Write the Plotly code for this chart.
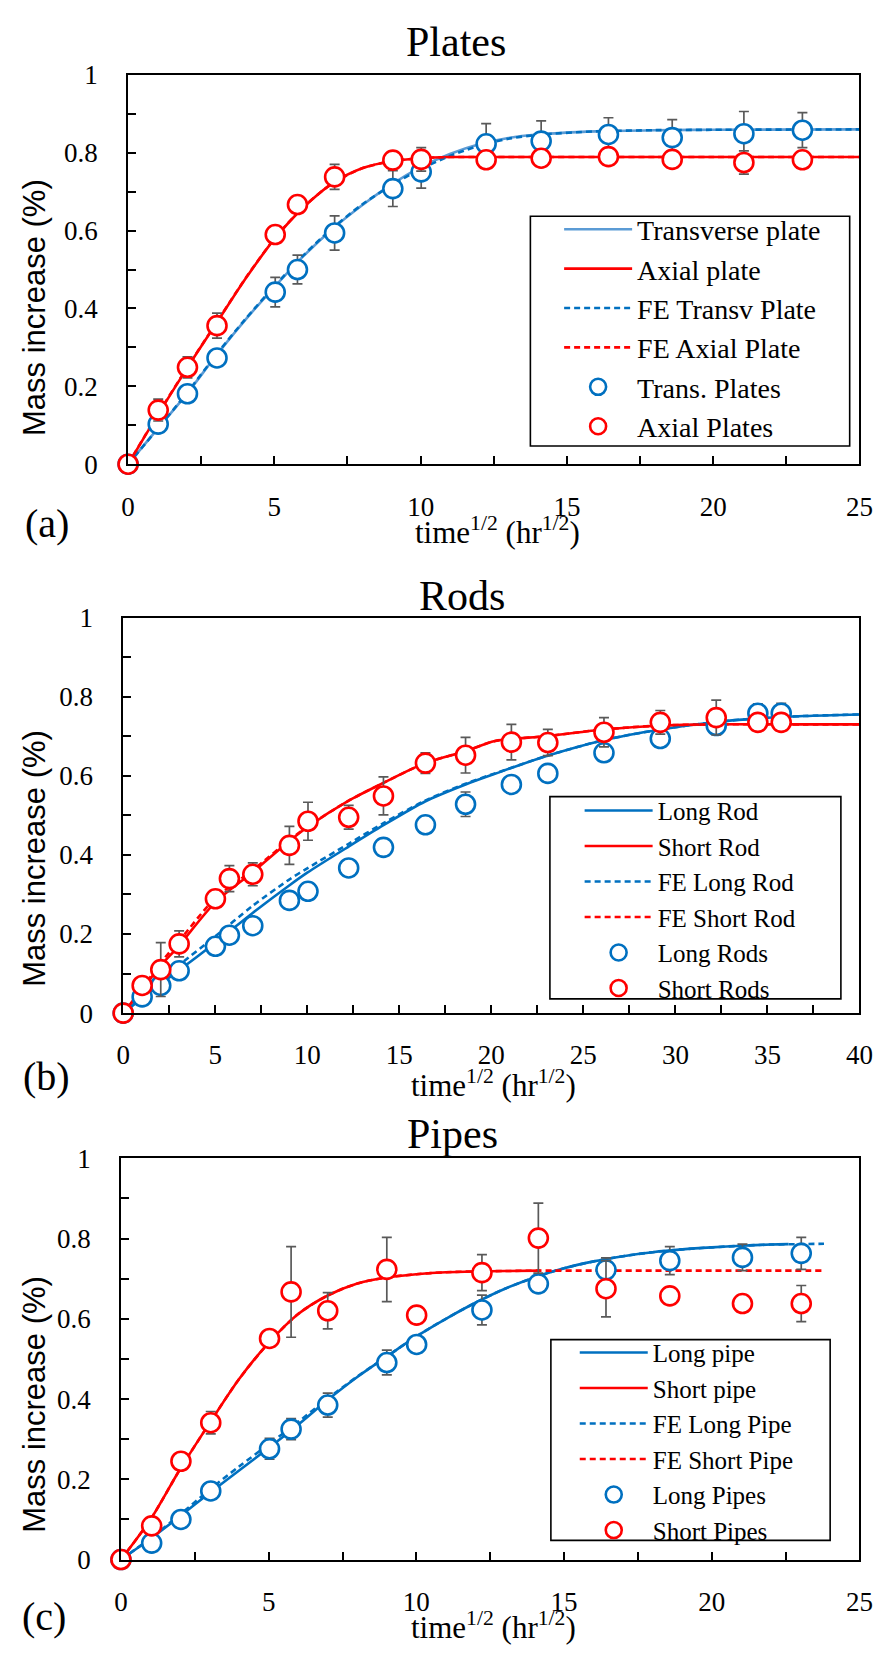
import plotly.graph_objects as go

W, H = 892, 1660

BLUE = "#0070C0"
LIGHT_BLUE = "#5B9BD5"
RED = "#FF0000"
ERR = "#595959"
SERIF = "Liberation Serif"
SANS = "Liberation Sans"

# ---------------- (a) Plates ----------------
plates_t = [0, 1.03, 2.03, 3.04, 5.03, 5.79, 7.06, 9.05, 10.02, 12.24, 14.12, 16.42, 18.6, 21.05, 23.05]
trans_plates = [0, 0.103, 0.181, 0.273, 0.442, 0.500, 0.594, 0.708, 0.751, 0.823, 0.830, 0.847, 0.839, 0.849, 0.858]
trans_plates_err = [0, 0.008, 0.008, 0.01, 0.038, 0.037, 0.044, 0.046, 0.042, 0.052, 0.052, 0.043, 0.046, 0.057, 0.045]
axial_plates = [0, 0.139, 0.249, 0.356, 0.590, 0.667, 0.738, 0.781, 0.783, 0.782, 0.786, 0.790, 0.783, 0.775, 0.782]
axial_plates_err = [0, 0.028, 0.027, 0.032, 0.012, 0.012, 0.032, 0.018, 0.03, 0.012, 0.012, 0.012, 0.012, 0.03, 0.012]

plate_curve_t = [0, 1, 2, 3, 4, 5, 6, 7, 8, 9, 10, 11, 12, 13, 14, 16, 18, 20, 25]
transverse_plate = [0, 0.09, 0.18, 0.278, 0.37, 0.455, 0.535, 0.605, 0.665, 0.718, 0.763, 0.797, 0.822, 0.838, 0.847, 0.855, 0.858, 0.859, 0.86]
fe_transverse_plate = [0, 0.09, 0.182, 0.28, 0.372, 0.457, 0.537, 0.607, 0.667, 0.716, 0.758, 0.792, 0.818, 0.836, 0.846, 0.855, 0.858, 0.859, 0.86]
axial_plate = [0, 0.125, 0.245, 0.36, 0.475, 0.578, 0.66, 0.722, 0.76, 0.778, 0.786, 0.789, 0.789, 0.789, 0.789, 0.789, 0.789, 0.789, 0.789]
fe_axial_plate = [0, 0.126, 0.246, 0.361, 0.476, 0.579, 0.661, 0.722, 0.76, 0.778, 0.786, 0.789, 0.789, 0.789, 0.789, 0.789, 0.789, 0.789, 0.789]

# ---------------- (b) Rods ----------------
rods_t = [0, 1.03, 2.04, 3.04, 5.01, 5.77, 7.04, 9.03, 10.04, 12.25, 14.14, 16.42, 18.6, 21.09, 23.07, 26.12, 29.18, 32.22, 34.48, 35.75]
long_rods = [0, 0.041, 0.070, 0.107, 0.169, 0.197, 0.221, 0.285, 0.308, 0.367, 0.419, 0.476, 0.528, 0.578, 0.606, 0.658, 0.694, 0.727, 0.758, 0.758]
long_rods_err = [0, 0.01, 0.01, 0.01, 0.01, 0.01, 0.01, 0.01, 0.01, 0.01, 0.01, 0.01, 0.031, 0.01, 0.01, 0.01, 0.01, 0.01, 0.024, 0.025]
short_rods = [0, 0.070, 0.110, 0.175, 0.289, 0.340, 0.351, 0.424, 0.485, 0.495, 0.549, 0.632, 0.652, 0.685, 0.684, 0.710, 0.735, 0.747, 0.735, 0.735]
short_rods_err = [0, 0.01, 0.068, 0.033, 0.01, 0.033, 0.029, 0.048, 0.048, 0.03, 0.048, 0.026, 0.045, 0.045, 0.033, 0.037, 0.03, 0.044, 0.01, 0.01]

rod_curve_t = [0, 1, 2, 3, 5, 7, 9, 10, 12.25, 14.14, 16.4, 18.6, 20.2, 23, 26.1, 29.2, 32.2, 34.5, 37, 40]
long_rod = [0, 0.037, 0.073, 0.107, 0.178, 0.252, 0.322, 0.355, 0.421, 0.475, 0.535, 0.578, 0.605, 0.65, 0.69, 0.717, 0.736, 0.745, 0.751, 0.755]
fe_long_rod = [0, 0.04, 0.082, 0.12, 0.194, 0.27, 0.337, 0.366, 0.428, 0.48, 0.537, 0.58, 0.606, 0.65, 0.69, 0.717, 0.736, 0.745, 0.751, 0.755]
short_rod = [0, 0.058, 0.118, 0.169, 0.28, 0.355, 0.434, 0.47, 0.537, 0.582, 0.632, 0.662, 0.688, 0.70, 0.717, 0.727, 0.73, 0.73, 0.73, 0.73]
fe_short_rod = [0, 0.06, 0.125, 0.18, 0.29, 0.36, 0.436, 0.471, 0.537, 0.582, 0.632, 0.662, 0.688, 0.70, 0.717, 0.727, 0.73, 0.73, 0.73, 0.73]

# ---------------- (c) Pipes ----------------
pipes_t = [0, 1.04, 2.03, 3.04, 5.03, 5.76, 7.0, 9.0, 10.01, 12.22, 14.13, 16.42, 18.58, 21.04, 23.03]
long_pipes = [0, 0.041, 0.100, 0.171, 0.276, 0.325, 0.385, 0.491, 0.536, 0.622, 0.687, 0.722, 0.745, 0.753, 0.763]
long_pipes_err = [0, 0.01, 0.01, 0.01, 0.026, 0.026, 0.03, 0.031, 0.01, 0.037, 0.01, 0.03, 0.035, 0.033, 0.04]
short_pipes = [0, 0.084, 0.245, 0.341, 0.551, 0.667, 0.620, 0.723, 0.609, 0.715, 0.801, 0.675, 0.657, 0.638, 0.638]
short_pipes_err = [0, 0.01, 0.01, 0.028, 0.01, 0.113, 0.045, 0.08, 0.01, 0.045, 0.087, 0.07, 0.01, 0.01, 0.045]

long_pipe_t = [0, 1, 2, 3, 4, 5, 6, 7, 8, 9, 10, 11, 12, 13, 14, 15, 16, 17, 18, 19, 20, 21, 22, 22.6]
long_pipe = [0, 0.052, 0.108, 0.166, 0.222, 0.278, 0.336, 0.398, 0.455, 0.506, 0.556, 0.6, 0.64, 0.675, 0.703, 0.726, 0.743, 0.756, 0.766, 0.773, 0.778, 0.782, 0.785, 0.786]
fe_long_pipe_t = [0, 1, 2, 3, 4, 5, 6, 7, 8, 9, 10, 11, 12, 13, 14, 15, 16, 17, 18, 19, 20, 21, 22, 23, 23.8]
fe_long_pipe = [0, 0.053, 0.112, 0.174, 0.232, 0.287, 0.343, 0.401, 0.456, 0.506, 0.556, 0.6, 0.64, 0.675, 0.703, 0.726, 0.743, 0.756, 0.766, 0.773, 0.778, 0.782, 0.785, 0.786, 0.787]
short_pipe_t = [0, 1, 2, 3, 4, 5, 6, 7, 8, 9, 10, 11, 12, 13, 14.2]
short_pipe = [0, 0.10, 0.225, 0.34, 0.45, 0.54, 0.612, 0.658, 0.688, 0.703, 0.711, 0.716, 0.718, 0.719, 0.72]
fe_short_pipe_t = [0, 1, 2, 3, 4, 5, 6, 7, 8, 9, 10, 11, 12, 13, 14.2, 16, 18, 20, 22, 23.8]
fe_short_pipe = [0, 0.10, 0.225, 0.34, 0.45, 0.54, 0.612, 0.658, 0.688, 0.703, 0.711, 0.716, 0.718, 0.719, 0.72, 0.72, 0.72, 0.72, 0.72, 0.72]

fig = go.Figure()


def add_curve(x, y, name, color, dash, xa, ya, legend):
    fig.add_trace(go.Scatter(
        x=x, y=y, name=name, mode="lines",
        line=dict(color=color, width=2.6, dash=dash, shape="spline", smoothing=0.8),
        xaxis=xa, yaxis=ya, legend=legend))


def add_points(x, y, err, name, color, xa, ya, legend):
    fig.add_trace(go.Scatter(
        x=x, y=y, name=name, mode="markers",
        marker=dict(symbol="circle", size=19, color="white", line=dict(color=color, width=2.6)),
        error_y=dict(type="data", array=err, visible=True, color=ERR, thickness=1.7, width=5),
        cliponaxis=False, xaxis=xa, yaxis=ya, legend=legend))


DASH = "6px,4px"

# Plates
add_curve(plate_curve_t, transverse_plate, "Transverse plate", LIGHT_BLUE, "solid", "x", "y", "legend")
add_curve(plate_curve_t, axial_plate, "Axial plate", RED, "solid", "x", "y", "legend")
add_curve(plate_curve_t, fe_transverse_plate, "FE Transv Plate", BLUE, DASH, "x", "y", "legend")
add_curve(plate_curve_t, fe_axial_plate, "FE Axial Plate", RED, DASH, "x", "y", "legend")
add_points(plates_t, trans_plates, trans_plates_err, "Trans. Plates", BLUE, "x", "y", "legend")
add_points(plates_t, axial_plates, axial_plates_err, "Axial Plates", RED, "x", "y", "legend")

# Rods
add_curve(rod_curve_t, long_rod, "Long Rod", BLUE, "solid", "x2", "y2", "legend2")
add_curve(rod_curve_t, short_rod, "Short Rod", RED, "solid", "x2", "y2", "legend2")
add_curve(rod_curve_t, fe_long_rod, "FE Long Rod", BLUE, DASH, "x2", "y2", "legend2")
add_curve(rod_curve_t, fe_short_rod, "FE Short Rod", RED, DASH, "x2", "y2", "legend2")
add_points(rods_t, long_rods, long_rods_err, "Long Rods", BLUE, "x2", "y2", "legend2")
add_points(rods_t, short_rods, short_rods_err, "Short Rods", RED, "x2", "y2", "legend2")

# Pipes
add_curve(long_pipe_t, long_pipe, "Long pipe", BLUE, "solid", "x3", "y3", "legend3")
add_curve(short_pipe_t, short_pipe, "Short pipe", RED, "solid", "x3", "y3", "legend3")
add_curve(fe_long_pipe_t, fe_long_pipe, "FE Long Pipe", BLUE, DASH, "x3", "y3", "legend3")
add_curve(fe_short_pipe_t, fe_short_pipe, "FE Short Pipe", RED, DASH, "x3", "y3", "legend3")
add_points(pipes_t, long_pipes, long_pipes_err, "Long Pipes", BLUE, "x3", "y3", "legend3")
add_points(pipes_t, short_pipes, short_pipes_err, "Short Pipes", RED, "x3", "y3", "legend3")


def px_x(v):
    return v / W


def px_y(v):
    return 1 - v / H


def xaxis(left, xmax, anchor):
    return dict(domain=[px_x(left), px_x(873)], range=[0, xmax], anchor=anchor,
                tick0=0, dtick=5, ticks="inside", ticklen=8, tickwidth=1.5, tickcolor="black",
                minor=dict(dtick=2.5, ticks="inside", ticklen=8, tickwidth=1.5, tickcolor="black"),
                showline=True, linewidth=1.8, linecolor="black", mirror=True,
                showgrid=False, zeroline=False, ticklabelstandoff=17,
                tickfont=dict(family=SERIF, size=27, color="black"))


def yaxis(top, bottom, anchor):
    return dict(domain=[px_y(bottom), px_y(top)], range=[0, 1], anchor=anchor,
                tick0=0, dtick=0.2, ticks="inside", ticklen=8, tickwidth=1.5, tickcolor="black",
                minor=dict(dtick=0.1, ticks="inside", ticklen=8, tickwidth=1.5, tickcolor="black"),
                showline=True, linewidth=1.8, linecolor="black", mirror=True,
                showgrid=False, zeroline=False, ticklabelstandoff=23,
                tickfont=dict(family=SERIF, size=27, color="black"))


# Legend entries sit on a white framed box drawn as a layout shape
def legend_entries(left, top, size):
    return dict(x=px_x(left), y=px_y(top), xanchor="left", yanchor="top", xref="paper", yref="paper",
                bgcolor="rgba(0,0,0,0)", borderwidth=0,
                font=dict(family=SERIF, size=size, color="black"),
                itemwidth=68, tracegroupgap=0, indentation=18)


legend_frames = [(536, 205, 863, 439), (556, 796, 854, 1002), (557, 1349, 843, 1553.5)]
for x0, y0, x1, y1 in legend_frames:
    fig.add_shape(type="rect", xref="paper", yref="paper", layer="above",
                  x0=px_x(x0), x1=px_x(x1), y0=px_y(y1), y1=px_y(y0),
                  fillcolor="white", line=dict(color="black", width=1.6))

fig.update_layout(
    width=W, height=H, margin=dict(l=0, r=0, t=0, b=0),
    paper_bgcolor="white", plot_bgcolor="white",
    xaxis=xaxis(124, 25, "y"), yaxis=yaxis(61, 457.5, "x"),
    xaxis2=xaxis(119, 40, "y2"), yaxis2=yaxis(613.6, 1016.5, "x2"),
    xaxis3=xaxis(116.7, 25, "y3"), yaxis3=yaxis(1164.3, 1573, "x3"),
    legend=legend_entries(547, 193, 28),
    legend2=legend_entries(568, 787, 25),
    legend3=legend_entries(563, 1339, 25),
)

X_TITLE = "time<sup>1/2</sup> (hr<sup>1/2</sup>)"
texts = [
    ("Plates", 460, 28, SERIF, 42, 0), ("Rods", 466, 592, SERIF, 42, 0), ("Pipes", 456, 1140, SERIF, 42, 0),
    (X_TITLE, 502, 525, SERIF, 31, 0), (X_TITLE, 498, 1088, SERIF, 31, 0), (X_TITLE, 498, 1640, SERIF, 31, 0),
    ("(a)", 41, 518, SERIF, 40, 0), ("(b)", 40, 1081, SERIF, 40, 0), ("(c)", 38, 1631, SERIF, 40, 0),
    ("Mass increase (%)", 28, 298, SANS, 31, -90), ("Mass increase (%)", 28, 859, SANS, 31, -90),
    ("Mass increase (%)", 28, 1415, SANS, 31, -90),
]
for txt, x, y, fam, size, ang in texts:
    fig.add_annotation(text=txt, x=px_x(x), y=px_y(y), xref="paper", yref="paper",
                       xanchor="center", yanchor="middle", showarrow=False, textangle=ang,
                       font=dict(family=fam, size=size, color="black"))

fig.write_html("out.html")
